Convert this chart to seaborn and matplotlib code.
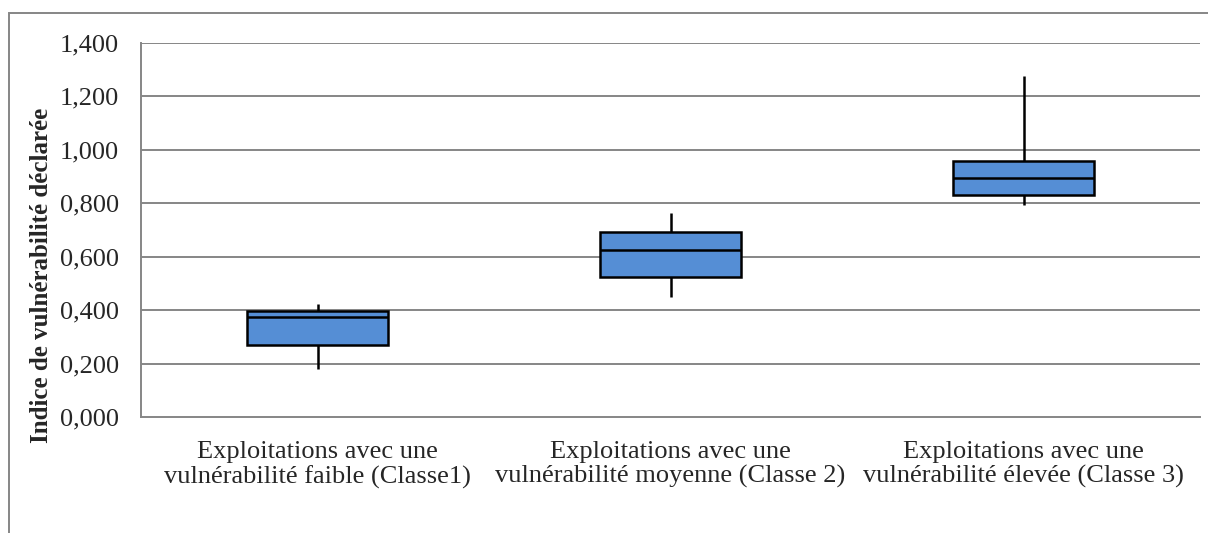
import numpy as np
import pandas as pd
import matplotlib
matplotlib.use("Agg")
import matplotlib.pyplot as plt
from matplotlib.patches import Rectangle
import seaborn as sns

# Five-number summaries per vulnerability class
categories = [
    "Exploitations avec une\nvulnérabilité faible (Classe1)",
    "Exploitations avec une\nvulnérabilité moyenne (Classe 2)",
    "Exploitations avec une\nvulnérabilité élevée (Classe 3)",
]
minimum = [0.178, 0.448, 0.794]
q1 = [0.268, 0.525, 0.831]
median = [0.375, 0.624, 0.895]
q3 = [0.395, 0.694, 0.958]
maximum = [0.422, 0.763, 1.275]

y_ticks = [0.0, 0.2, 0.4, 0.6, 0.8, 1.0, 1.2, 1.4]
y_label = "Indice de vulnérabilité déclarée"

# With exactly five points, linear percentiles reproduce Q1/median/Q3,
# and whiskers spanning 0-100 % reach the min and max.
rows = []
for cat, a, b, c, d, e in zip(categories, minimum, q1, median, q3, maximum):
    for v in (a, b, c, d, e):
        rows.append({"classe": cat, "indice": v})
df = pd.DataFrame(rows)

sns.set_theme(style="white")
plt.rcParams["font.family"] = ["Liberation Serif", "DejaVu Serif"]

fig = plt.figure(figsize=(12.08, 5.33), dpi=100)
ax = fig.add_axes([141 / 1208, 1 - 417 / 533, (1200 - 141) / 1208, (417 - 43) / 533])

grid_col = "#868686"
for t in y_ticks[1:]:
    ax.axhline(t, color=grid_col, lw=1.4, zorder=0)

sns.boxplot(
    data=df, x="classe", y="indice", order=categories,
    whis=(0, 100), width=0.40, color="#558ED5", saturation=1,
    linecolor="black", linewidth=1.8, showfliers=False,
    capprops=dict(linewidth=0), ax=ax, zorder=3,
)
for patch in ax.patches:
    patch.set_facecolor("#558ED5")

ax.set_ylim(0, 1.4)
ax.set_xlim(-0.5, 2.5)
ax.set_yticks(y_ticks)
ax.set_yticklabels([f"{t:.3f}".replace(".", ",") for t in y_ticks], fontsize=19)
ax.set_xlabel("")
ax.set_ylabel(y_label, fontsize=18, fontweight="bold")
ax.yaxis.set_label_coords(-0.0831, 0.38)

ax.set_xticks([0, 1, 2])
ax.set_xticklabels(categories, fontsize=19, linespacing=1.14)
ax.tick_params(axis="x", length=0, pad=17)
ax.set_xticks([-0.5, 0.5, 1.5, 2.5], minor=True)
ax.tick_params(axis="x", which="minor", length=7, color=grid_col, width=1.3, direction="out")
ax.tick_params(axis="y", length=7, color=grid_col, width=1.3, direction="out", pad=9)

for side in ("top", "right"):
    ax.spines[side].set_visible(False)
for side in ("left", "bottom"):
    ax.spines[side].set_color(grid_col)
    ax.spines[side].set_linewidth(1.4)

# Outer chart-area border
fig.patches.append(Rectangle(
    (9 / 1208, -0.05), 1.1, 1 - 13 / 533 + 0.05,
    transform=fig.transFigure, fill=False, edgecolor=grid_col, lw=1.4,
))

fig.savefig("out.png", dpi=100)
